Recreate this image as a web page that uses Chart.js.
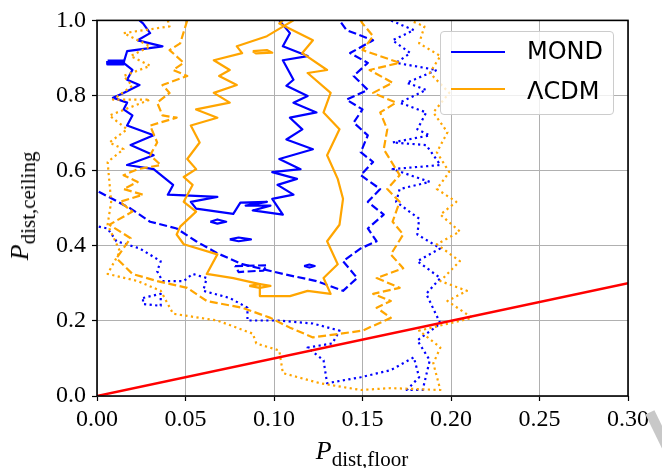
<!DOCTYPE html>
<html><head><meta charset="utf-8">
<script src="https://cdn.jsdelivr.net/npm/chart.js@4.4.1/dist/chart.umd.min.js"></script>
<style>
html,body{margin:0;padding:0;background:#fff;}
#wrap{position:relative;width:662px;height:468px;overflow:hidden;background:#fff;}
canvas{position:absolute;left:0;top:0;}
.serif{font-family:"Liberation Serif","DejaVu Serif",serif;color:#000;white-space:nowrap;line-height:1;}
.abs{position:absolute;}
#xt{left:362px;top:438px;transform:translateX(-50%);font-size:26px;}
#yt{left:20px;top:206px;transform:translate(-50%,-50%) rotate(-90deg);font-size:26px;}
.sub{font-size:21px;position:relative;top:7px;font-style:normal;}
#leg{left:440px;top:31px;width:172px;height:82px;border:1px solid #cccccc;border-radius:4px;background:rgba(255,255,255,0.8);}
.lline{position:absolute;left:451px;width:54px;height:2px;}
.ltxt{position:absolute;left:527px;font-family:"DejaVu Sans",sans-serif;font-size:24px;line-height:1;color:#000;}
#wm{left:655px;top:410px;width:10px;height:46px;background:#c8c8c8;transform:rotate(-26deg);}
</style></head>
<body>
<div id="wrap">
<canvas id="c" width="662" height="468"></canvas>
<div id="leg" class="abs"></div>
<div class="lline" style="top:51px;background:#0000ff;"></div>
<div class="lline" style="top:88px;background:#ffa500;"></div>
<div class="ltxt" style="top:39px;">MOND</div>
<div class="ltxt" style="top:79px;">ΛCDM</div>
<div id="xt" class="abs serif"><i>P</i><span class="sub">dist,floor</span></div>
<div id="yt" class="abs serif"><i>P</i><span class="sub">dist,ceiling</span></div>
<div id="wm" class="abs"></div>
</div>
<script>
// Axis ticks
const xTickValues = [0, 0.05, 0.10, 0.15, 0.20, 0.25, 0.30];
const yTickValues = [0, 0.2, 0.4, 0.6, 0.8, 1.0];

// Reference line P_ceiling = P_floor
const refLineX = [0, 0.30];
const refLineY = [0, 0.30];

// MOND contours [P_floor, P_ceiling]
const mondSolid = [[.024,1.0],[.026,.992],[.030,.966],[.023,.947],[.037,.931],[.017,.918],[.015,.887],[.020,.868],[.017,.842],[.024,.828],[.015,.807],[.009,.794],[.017,.781],[.015,.763],[.020,.747],[.017,.720],[.032,.694],[.019,.668],[.032,.641],[.017,.615],[.032,.604],[.043,.562],[.040,.536],[.068,.530],[.053,.517],[.056,.499],[.077,.485],[.081,.515],[.096,.517],[.084,.507],[.098,.507],[.088,.494],[.105,.483],[.099,.525],[.111,.536],[.102,.562],[.113,.578],[.099,.596],[.115,.604],[.103,.631],[.122,.657],[.107,.683],[.116,.710],[.109,.741],[.124,.755],[.111,.781],[.119,.799],[.107,.826],[.111,.842],[.105,.894],[.119,.905],[.105,.931],[.109,.966],[.103,1.0]];
const mondSolidIsland1 = [[.064,.464],[.068,.470],[.073,.464],[.068,.459],[.064,.464]];
const mondSolidIsland2 = [[.075,.417],[.080,.422],[.087,.417],[.080,.412],[.075,.417]];
const mondSolidIsland3 = [[.006,.892],[.015,.892],[.015,.884],[.006,.884],[.006,.892]];
const mondSolidIsland4 = [[.117,.346],[.120,.350],[.123,.346],[.120,.342],[.117,.346]];
const mondDashed = [[.001,.544],[.019,.499],[.030,.464],[.045,.446],[.056,.412],[.068,.380],[.082,.351],[.105,.325],[.124,.306],[.139,.280],[.147,.314],[.139,.359],[.149,.393],[.158,.412],[.153,.446],[.162,.483],[.153,.517],[.160,.551],[.149,.588],[.156,.623],[.149,.649],[.153,.694],[.145,.728],[.150,.763],[.141,.789],[.153,.815],[.145,.852],[.153,.887],[.143,.913],[.156,.947],[.141,.974],[.137,1.0]];
const mondDashedIsland = [[.078,.346],[.096,.348],[.094,.334],[.080,.330],[.078,.346]];
const mondDotted = [[.001,.451],[.006,.446],[.011,.412],[.024,.393],[.036,.359],[.034,.332],[.037,.306],[.049,.306],[.054,.325],[.062,.314],[.060,.280],[.075,.261],[.085,.235],[.085,.201],[.102,.201],[.122,.193],[.137,.174],[.133,.140],[.119,.129],[.128,.095],[.130,.034],[.149,.050],[.166,.069],[.179,.103],[.182,.050],[.175,.016],[.184,.016],[.188,.095],[.181,.148],[.194,.193],[.186,.272],[.194,.314],[.181,.359],[.194,.393],[.181,.430],[.182,.472],[.169,.517],[.171,.551],[.188,.570],[.167,.604],[.194,.615],[.186,.668],[.167,.675],[.188,.694],[.181,.710],[.186,.755],[.171,.781],[.186,.815],[.175,.834],[.192,.868],[.169,.887],[.177,.913],[.167,.947],[.179,.974],[.166,1.0]];
const mondDottedIsland = [[.026,.261],[.036,.272],[.036,.240],[.026,.245],[.026,.261]];

// ΛCDM contours [P_floor, P_ceiling]
const lcdmSolid = [[.111,1.0],[.096,.958],[.079,.931],[.082,.913],[.066,.894],[.075,.868],[.069,.852],[.079,.828],[.066,.807],[.075,.781],[.056,.763],[.068,.741],[.053,.720],[.058,.675],[.051,.631],[.056,.604],[.049,.583],[.054,.562],[.049,.517],[.056,.491],[.047,.451],[.045,.430],[.049,.404],[.068,.377],[.062,.325],[.077,.314],[.092,.298],[.092,.266],[.109,.266],[.119,.280],[.132,.272],[.128,.314],[.136,.351],[.130,.412],[.137,.456],[.139,.525],[.136,.578],[.130,.641],[.137,.710],[.128,.755],[.132,.807],[.119,.860],[.130,.868],[.116,.913],[.122,.947],[.103,.992],[.105,1.0]];
const lcdmSolidIsland1 = [[.086,.293],[.092,.298],[.098,.293],[.092,.288],[.086,.293]];
const lcdmSolidIsland2 = [[.088,.918],[.096,.921],[.099,.914],[.090,.912],[.088,.918]];
const lcdmDashed = [[.051,1.0],[.047,.939],[.041,.921],[.049,.887],[.043,.868],[.051,.852],[.037,.828],[.041,.807],[.034,.781],[.037,.747],[.045,.741],[.030,.720],[.034,.675],[.030,.641],[.036,.615],[.023,.604],[.015,.588],[.023,.570],[.015,.551],[.026,.536],[.013,.517],[.020,.491],[.007,.456],[.019,.420],[.011,.367],[.020,.325],[.034,.306],[.051,.288],[.062,.253],[.082,.235],[.098,.208],[.109,.182],[.122,.156],[.150,.174],[.166,.208],[.158,.235],[.166,.253],[.156,.272],[.171,.288],[.158,.314],[.173,.340],[.166,.377],[.173,.430],[.167,.464],[.171,.517],[.164,.551],[.171,.588],[.162,.657],[.164,.710],[.160,.755],[.169,.781],[.156,.807],[.167,.834],[.154,.868],[.171,.887],[.150,.921],[.156,.958],[.150,.992],[.149,1.0]];
const lcdmDotted = [[.040,1.0],[.041,.984],[.015,.966],[.030,.931],[.019,.905],[.030,.879],[.015,.852],[.020,.826],[.009,.789],[.030,.789],[.007,.747],[.017,.710],[.007,.675],[.015,.657],[.006,.623],[.008,.517],[.006,.456],[.013,.385],[.006,.325],[.023,.306],[.036,.280],[.043,.219],[.068,.201],[.088,.166],[.090,.140],[.103,.121],[.105,.061],[.126,.034],[.149,.016],[.166,.021],[.194,.016],[.190,.087],[.194,.129],[.182,.174],[.212,.208],[.198,.253],[.209,.280],[.194,.306],[.205,.359],[.192,.404],[.205,.438],[.194,.483],[.203,.517],[.192,.551],[.199,.596],[.192,.649],[.198,.702],[.190,.755],[.199,.807],[.188,.860],[.194,.905],[.182,.939],[.185,.984],[.177,1.0]];

const BLUE = '#0000ff', ORANGE = '#ffa500', RED = '#ff0000';
const DASH = [8, 3.5], DOT = [2.2, 3.4];

function pts(a){ return a.map(p => ({x: p[0], y: p[1]})); }
function ds(arr, color, dash, w){
  return {data: pts(arr), borderColor: color, backgroundColor: color, borderWidth: w || 2.2,
    borderDash: dash || [], showLine: true, pointRadius: 0, fill: false, tension: 0,
    borderCapStyle: 'butt', borderJoinStyle: 'round'};
}

const datasets = [
  {data: refLineX.map((x, i) => ({x: x, y: refLineY[i]})), borderColor: RED, borderWidth: 2.5, showLine: true, pointRadius: 0, fill: false},
  ds(lcdmSolid, ORANGE), ds(lcdmSolidIsland1, ORANGE), ds(lcdmSolidIsland2, ORANGE),
  ds(lcdmDashed, ORANGE, DASH), ds(lcdmDotted, ORANGE, DOT),
  ds(mondSolid, BLUE), ds(mondSolidIsland1, BLUE), ds(mondSolidIsland2, BLUE), ds(mondSolidIsland3, BLUE, null, 3), ds(mondSolidIsland4, BLUE),
  ds(mondDashed, BLUE, DASH), ds(mondDashedIsland, BLUE, DASH),
  ds(mondDotted, BLUE, DOT), ds(mondDottedIsland, BLUE, DOT)
];

const framePlugin = {
  id: 'frame',
  afterDatasetsDraw(chart){
    const a = chart.chartArea, c = chart.ctx;
    c.save(); c.strokeStyle = '#000'; c.lineWidth = 1.6;
    c.strokeRect(a.left, a.top, a.right - a.left, a.bottom - a.top);
    c.restore();
  }
};

const tickFont = {family: '"Liberation Serif","DejaVu Serif",serif', size: 24};

new Chart(document.getElementById('c').getContext('2d'), {
  type: 'scatter',
  data: {datasets: datasets},
  options: {
    responsive: false, animation: false, devicePixelRatio: 1,
    layout: {padding: {top: 17, right: 34, left: 0, bottom: 0}},
    plugins: {legend: {display: false}, tooltip: {enabled: false}},
    scales: {
      x: {type: 'linear', min: 0, max: 0.3,
        afterBuildTicks: s => { s.ticks = xTickValues.map(v => ({value: v})); },
        afterFit: s => { s.height = 72; },
        ticks: {callback: v => Number(v).toFixed(2), font: tickFont, color: '#000', padding: 4, maxRotation: 0, autoSkip: false},
        grid: {color: '#b0b0b0', lineWidth: 1, tickLength: 5, tickColor: '#000', tickWidth: 1.2, drawTicks: true},
        border: {display: false}},
      y: {type: 'linear', min: 0, max: 1,
        afterBuildTicks: s => { s.ticks = yTickValues.map(v => ({value: v})); },
        afterFit: s => { s.width = 97; },
        ticks: {callback: v => Number(v).toFixed(1), font: tickFont, color: '#000', padding: 6, autoSkip: false},
        grid: {color: '#b0b0b0', lineWidth: 1, tickLength: 5, tickColor: '#000', tickWidth: 1.2, drawTicks: true},
        border: {display: false}}
    }
  },
  plugins: [framePlugin]
});
</script>
</body></html>
